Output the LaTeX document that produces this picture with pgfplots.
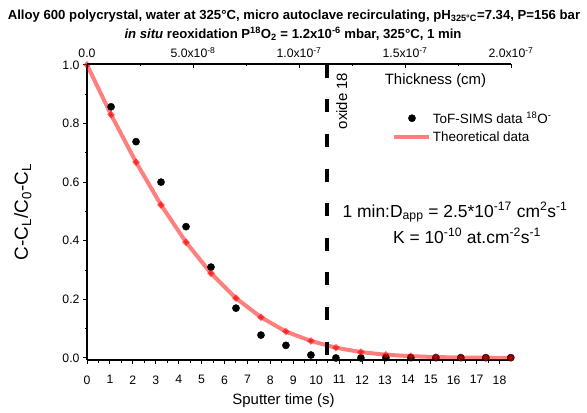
\documentclass[border=0pt]{standalone}
\usepackage{pgfplots}
\pgfplotsset{compat=1.18}
\usepackage{fontspec}
\setmainfont{Liberation Sans}
\pgfplotsset{
  dotlegend/.style={legend image code/.code={\draw[##1] plot coordinates {(17.5bp,0bp)};}},
  linelegend/.style={legend image code/.code={\draw[red, opacity=0.5, line width=4bp] (0bp,0bp) -- (35bp,0bp);}},
}

\begin{document}
\begin{tikzpicture}[x=1bp,y=1bp]
\path[use as bounding box] (-87,-52) rectangle (500,360);
\begin{axis}[
  name=main, at={(0,0)}, anchor=south west,
  scale only axis, width=424bp, height=296bp,
  xmin=0, xmax=18.5, ymin=-0.007, ymax=1.003,
  axis x line*=bottom, axis y line*=left,
  x axis line style={line width=1.2bp,-},
  y axis line style={line width=2bp,-},
  xtick={0,1,...,18}, minor x tick num=1,
  ytick={0,0.2,0.4,0.6,0.8,1.0}, yticklabels={0.0,0.2,0.4,0.6,0.8,1.0},
  minor y tick num=1,
  tick align=outside,
  major tick length=4bp, minor tick length=2.5bp,
  tick style={black, line width=1bp},
  /pgf/number format/assume math mode=true,
  tick label style={font=\fontsize{12.3}{14}\selectfont},
  xticklabel style={yshift=-8bp},
  legend style={at={(rel axis cs:0.72,0.845)}, anchor=north west, draw=none, fill=none,
    font=\fontsize{13.5}{15}\selectfont, row sep=4bp, inner sep=0pt,
    nodes={inner sep=1.5bp}},
  legend cell align=left,
]
\addplot[only marks, mark=*, mark size=3.6bp, black, dotlegend]
coordinates {
(1.05,0.857) (2.14,0.738) (3.23,0.600) (4.32,0.448) (5.41,0.310) (6.50,0.170)
(7.59,0.078) (8.68,0.043) (9.77,0.010) (10.86,0.000) (11.95,0.000) (13.04,0.001)
(14.13,0.001) (15.22,0.001) (16.31,0.001) (17.40,0.001) (18.49,0.001)
};
\addlegendentry{ToF-SIMS data \textsuperscript{18}O\textsuperscript{-}}
\addplot[red, opacity=0.5, line width=4bp, mark=*, mark size=1bp,
  mark options={opacity=0.6, fill=red, draw=none}, linelegend]
coordinates {
(0,1.0) (1.05,0.83) (2.14,0.668) (3.23,0.522) (4.32,0.395) (5.41,0.289) (6.50,0.204)
(7.59,0.139) (8.68,0.090) (9.77,0.058) (10.86,0.035) (11.95,0.020) (13.04,0.011)
(14.13,0.006) (15.22,0.003) (16.31,0.0015) (17.40,0.0008) (18.49,0.0004)
};
\addlegendentry{Theoretical data}
\addplot[black, line width=3.2bp, dash pattern=on 13bp off 21.6bp, forget plot]
coordinates {(10.47,1.0) (10.47,-0.007)};
\end{axis}
\begin{axis}[
  at={(0,0)}, anchor=south west,
  scale only axis, width=424bp, height=296bp,
  xmin=0, xmax=2.0e-7, ymin=0, ymax=1,
  axis x line*=top, axis y line=none,
  x axis line style={line width=2bp,-},
  xtick={0,5e-8,1e-7,1.5e-7,2e-7},
  xticklabels={0.0, 5.0x10\textsuperscript{-8}, 1.0x10\textsuperscript{-7}, 1.5x10\textsuperscript{-7}, 2.0x10\textsuperscript{-7}},
  minor x tick num=1,
  tick align=inside,
  major tick length=4bp, minor tick length=2.5bp,
  tick style={black, line width=1bp},
  tick label style={font=\fontsize{12.3}{14}\selectfont},
  xticklabel style={yshift=3bp},
  scaled x ticks=false,
]
\end{axis}
\node[font=\bfseries\fontsize{13.2}{15}\selectfont, anchor=base] at (207,341) {Alloy 600 polycrystal, water at 325°C, micro autoclave recirculating, pH\textsubscript{325°C}=7.34, P=156 bar};
\node[font=\bfseries\fontsize{13.2}{15}\selectfont, anchor=base] at (206,322) {\textit{in situ} reoxidation P\textsuperscript{18}O\textsubscript{2} = 1.2x10\textsuperscript{-6} mbar, 325°C, 1 min};
\node[font=\fontsize{15}{17}\selectfont, anchor=base] at (196.5,-44) {Sputter time (s)};
\node[font=\fontsize{19}{21}\selectfont, anchor=base, rotate=90] at (-59,148) {C-C\textsubscript{L}/C\textsubscript{0}-C\textsubscript{L}};
\node[font=\fontsize{15}{17}\selectfont, anchor=center] at (348.5,279) {Thickness (cm)};
\node[font=\fontsize{15}{17}\selectfont, anchor=base, rotate=90] at (260,259) {oxide 18};
\node[font=\fontsize{17.5}{19}\selectfont, anchor=base] at (368,143) {1 min:D\textsubscript{app} = 2.5*10\textsuperscript{-17} cm\textsuperscript{2}s\textsuperscript{-1}};
\node[font=\fontsize{17.5}{19}\selectfont, anchor=base] at (380,117) {K = 10\textsuperscript{-10} at.cm\textsuperscript{-2}s\textsuperscript{-1}};
\end{tikzpicture}
\end{document}
